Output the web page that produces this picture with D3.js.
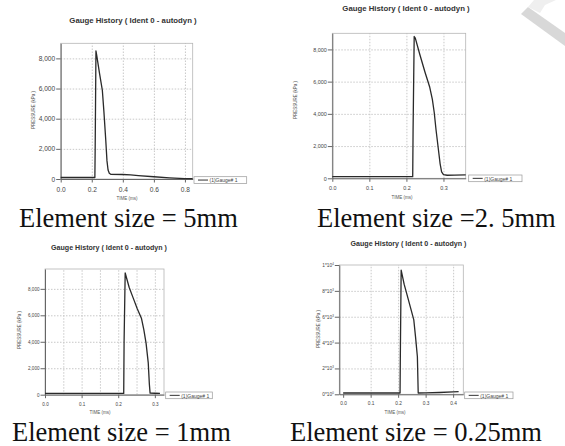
<!DOCTYPE html>
<html>
<head>
<meta charset="utf-8">
<script src="https://cdn.jsdelivr.net/npm/d3@7"></script>
<style>
  body { margin: 0; background: #fff; }
  svg { display: block; }
  .tick text { fill: #444; font-family: Arial, "Liberation Sans", sans-serif; }
  .axis path, .axis line { stroke: #666; }
  .grid line { stroke: #c8c8c8; stroke-dasharray: 1.5, 1.5; }
  .grid path { stroke: none; }
</style>
</head>
<body>
<div id="chart"></div>
<script>
// gauge pressure histories [time ms, pressure kPa]
var gauge5mm = [
  [0, 100], [0.22, 100], [0.222, 2000], [0.227, 8500], [0.232, 8200], [0.25, 7000],
  [0.268, 5900], [0.278, 4500], [0.29, 2600], [0.298, 1200], [0.305, 600], [0.313, 380],
  [0.322, 310], [0.4, 300], [0.45, 280], [0.5, 230], [0.6, 150], [0.7, 80], [0.8, 30], [0.85, 20]
];
var gauge2_5mm = [
  [0, 100], [0.217, 100], [0.218, 3000], [0.221, 8800], [0.224, 8700], [0.236, 7700],
  [0.25, 6600], [0.263, 5650], [0.27, 4900], [0.275, 4100], [0.28, 3000], [0.286, 1850],
  [0.291, 900], [0.295, 400], [0.3, 230], [0.31, 190], [0.33, 200], [0.36, 210]
];
var gauge1mm = [
  [0, 100], [0.215, 100], [0.216, 4000], [0.219, 9200], [0.23, 8100], [0.241, 7300],
  [0.252, 6500], [0.2636, 5750], [0.27, 4900], [0.276, 3900], [0.282, 2400], [0.285, 800],
  [0.287, 120], [0.3, 110], [0.314, 100]
];
var gauge0_25mm = [
  [0, 100], [0.207, 100], [0.208, 3000], [0.211, 9600], [0.222, 8500], [0.231, 7800],
  [0.245, 6700], [0.257, 5750], [0.263, 4500], [0.27, 2900], [0.273, 100], [0.3, 110],
  [0.35, 140], [0.4, 180], [0.42, 200]
];

// ticks
var xTicks5mm = [0, 0.2, 0.4, 0.6, 0.8];
var xTicks2_5mm = [0, 0.1, 0.2, 0.3];
var xTicks1mm = [0, 0.1, 0.2, 0.3];
var xGrid1mm = [0.05, 0.1, 0.15, 0.2, 0.25, 0.3];
var xTicks0_25mm = [0, 0.1, 0.2, 0.3, 0.4];
var yTicksKpa = [0, 2000, 4000, 6000, 8000];
var yTicksSci = [0, 2000, 4000, 6000, 8000, 10000];
var yLabelsSci = ['0*10^0', '2*10^3', '4*10^3', '6*10^3', '8*10^3', '1*10^4'];

var captions = ['Element size = 5mm', 'Element size =2. 5mm', 'Element size = 1mm', 'Element size = 0.25mm'];
var chartTitle = 'Gauge History ( Ident 0 - autodyn )';
var legendText = '(1)Gauge# 1';

// layout of each panel (pixel boxes, font sizes)
var panels = [
  { data: gauge5mm, x0: 60.7, x1: 192.7, y0: 43.3, y1: 179, xd: [0, 0.85], yd: [0, 9000],
    xt: xTicks5mm, xg: xTicks5mm.slice(1), yt: yTicksKpa, tf: 6.6, title: [133, 22.5, 7.8], ylab: [33, 110], xlab: [127, 200],
    leg: [194, 176.7, 52.7], cap: [19, 227] },
  { data: gauge2_5mm, x0: 332.3, x1: 465.7, y0: 33.3, y1: 178.3, xd: [0, 0.36], yd: [0, 9000],
    xt: xTicks2_5mm, xg: xTicks2_5mm.slice(1), yt: yTicksKpa, tf: 5.4, title: [406, 11, 7.8], ylab: [295.5, 100], xlab: [402, 198.5],
    leg: [468.7, 175, 53.3], cap: [317, 227] },
  { data: gauge1mm, x0: 45, x1: 164, y0: 269, y1: 394.7, xd: [0, 0.325], yd: [0, 9500],
    xt: xTicks1mm, xg: xGrid1mm, yt: yTicksKpa, tf: 4.6, title: [109, 249.8, 7.1], ylab: [19, 330], xlab: [100, 413.5],
    leg: [165.7, 392, 46.6], cap: [12, 441] },
  { data: gauge0_25mm, x0: 339.3, x1: 463.3, y0: 265, y1: 394.3, xd: [-0.014, 0.437], yd: [0, 10000],
    xt: xTicks0_25mm, xg: xTicks0_25mm.slice(1), yt: yTicksSci, sci: yLabelsSci, tf: 4.8, title: [408.5, 245.5, 7.1], ylab: [318, 329], xlab: [395, 413.5],
    leg: [464.7, 392, 48.3], cap: [290, 441] }
];

var width = 565, height = 446;
var svg = d3.select('#chart').append('svg')
  .attr('width', width)
  .attr('height', height);

// faint watermark stroke in the corner
svg.append('path')
  .attr('d', 'M521,14 L528,7 L565,33 L565,46 Z')
  .attr('fill', '#d8d8d8');
svg.append('path')
  .attr('d', 'M528,7 L534,0 L556,0 L545,5 L540,13 Z')
  .attr('fill', '#efefef');

panels.forEach(function (p) {
  var x = d3.scaleLinear().domain(p.xd).range([p.x0, p.x1]);
  var y = d3.scaleLinear().domain(p.yd).range([p.y1, p.y0]);
  var g = svg.append('g');

  // grid
  g.append('g').attr('class', 'grid')
    .attr('transform', `translate(0, ${p.y1})`)
    .call(d3.axisBottom(x).tickValues(p.xg).tickSize(-(p.y1 - p.y0)).tickFormat(''));
  g.append('g').attr('class', 'grid')
    .attr('transform', `translate(${p.x0}, 0)`)
    .call(d3.axisLeft(y).tickValues(p.yt.filter(function (v) { return v > 0 && y(v) > p.y0 + 2; }))
      .tickSize(-(p.x1 - p.x0)).tickFormat(''));

  // frame
  g.append('rect')
    .attr('x', p.x0).attr('y', p.y0)
    .attr('width', p.x1 - p.x0).attr('height', p.y1 - p.y0)
    .attr('fill', 'none').attr('stroke', '#b5b5b5').attr('stroke-width', 0.8);

  // axes
  var ax = g.append('g').attr('class', 'axis')
    .attr('transform', `translate(0, ${p.y1})`)
    .call(d3.axisBottom(x).tickValues(p.xt).tickSize(3.5).tickSizeOuter(0).tickFormat(d3.format('.1f')));
  ax.selectAll('text').attr('font-size', p.tf).attr('dy', '0.95em');

  var ay = g.append('g').attr('class', 'axis')
    .attr('transform', `translate(${p.x0}, 0)`)
    .call(d3.axisLeft(y).tickValues(p.yt).tickSize(4.5).tickSizeOuter(0).tickFormat(d3.format(',')));
  ay.selectAll('text').attr('font-size', p.tf).attr('x', -5.5);
  if (p.sci) {
    ay.selectAll('.tick text').each(function (d, i) {
      var parts = p.sci[i].split('^');
      var t = d3.select(this).text(null);
      t.append('tspan').text(parts[0]);
      t.append('tspan').attr('dy', -2).attr('font-size', p.tf * 0.6).text(parts[1]);
    });
  }
  ax.select('.domain').attr('stroke', '#666');
  ay.select('.domain').attr('stroke', '#666');

  // series
  g.append('path')
    .datum(p.data)
    .attr('fill', 'none')
    .attr('stroke', '#2a2a2a')
    .attr('stroke-width', 1.3)
    .attr('stroke-linejoin', 'round')
    .attr('d', d3.line().x(function (d) { return x(d[0]); }).y(function (d) { return y(d[1]); }));

  // titles and axis labels
  g.append('text')
    .attr('x', p.title[0]).attr('y', p.title[1])
    .attr('text-anchor', 'middle')
    .attr('font-family', 'Arial, "Liberation Sans", sans-serif')
    .attr('font-weight', 'bold')
    .attr('font-size', p.title[2])
    .attr('fill', '#333')
    .text(chartTitle);
  g.append('text')
    .attr('transform', `translate(${p.ylab[0]}, ${p.ylab[1]}) rotate(-90)`)
    .attr('text-anchor', 'middle')
    .attr('dominant-baseline', 'central')
    .attr('font-family', 'Arial, "Liberation Sans", sans-serif')
    .attr('font-size', 4.5)
    .attr('fill', '#555')
    .text('PRESSURE (kPa )');
  g.append('text')
    .attr('x', p.xlab[0]).attr('y', p.xlab[1])
    .attr('text-anchor', 'middle')
    .attr('font-family', 'Arial, "Liberation Sans", sans-serif')
    .attr('font-size', 4.5)
    .attr('fill', '#555')
    .text('TIME (ms)');

  // legend
  var lg = g.append('g').attr('transform', `translate(${p.leg[0]}, ${p.leg[1]})`);
  lg.append('rect')
    .attr('width', p.leg[2]).attr('height', 6.7)
    .attr('fill', '#fff').attr('stroke', '#999').attr('stroke-width', 0.7);
  lg.append('line')
    .attr('x1', 4).attr('x2', 14).attr('y1', 3.35).attr('y2', 3.35)
    .attr('stroke', '#333').attr('stroke-width', 1);
  lg.append('text')
    .attr('x', 15.5).attr('y', 3.5)
    .attr('dominant-baseline', 'central')
    .attr('font-family', 'Arial, "Liberation Sans", sans-serif')
    .attr('font-size', 5)
    .attr('fill', '#444')
    .text(legendText);
});

// captions below each panel
svg.selectAll('text.caption')
  .data(captions)
  .enter()
  .append('text')
  .attr('class', 'caption')
  .attr('x', function (d, i) { return panels[i].cap[0]; })
  .attr('y', function (d, i) { return panels[i].cap[1]; })
  .attr('font-family', '"Liberation Serif", "Times New Roman", serif')
  .attr('font-size', 26.5)
  .attr('fill', '#111')
  .text(function (d) { return d; });
</script>
</body>
</html>
